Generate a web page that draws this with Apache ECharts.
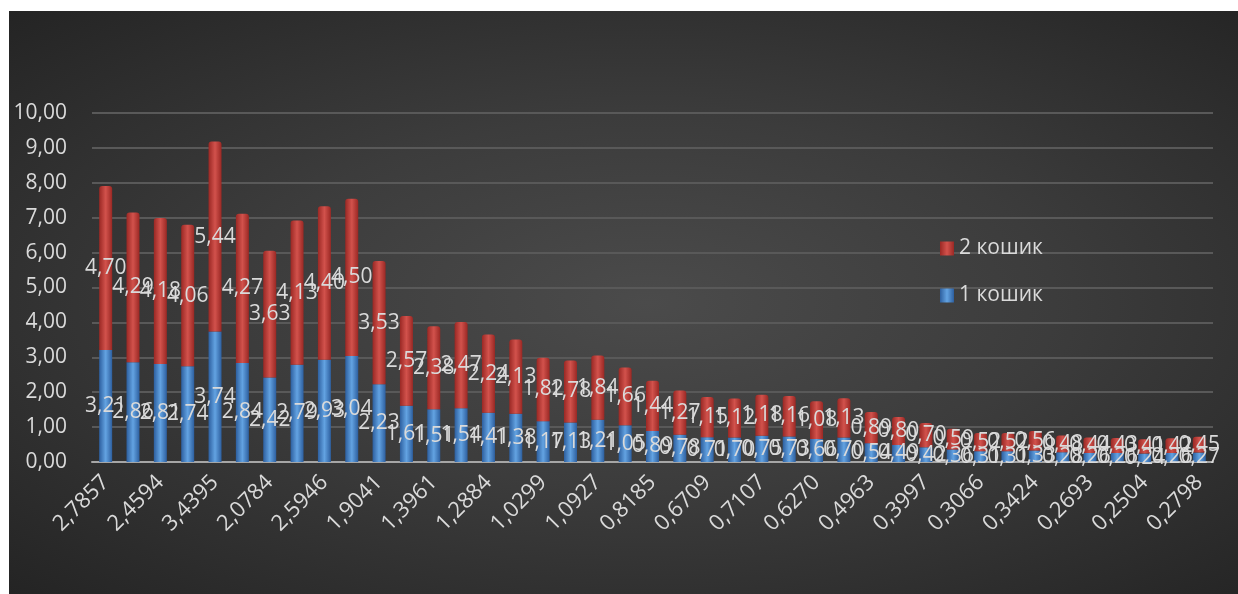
<!DOCTYPE html>
<html>
<head>
<meta charset="utf-8">
<script src="https://cdn.jsdelivr.net/npm/echarts@6/dist/echarts.min.js"></script>
<style>
  html, body { margin: 0; padding: 0; background: #ffffff; }
  #chart {
    position: absolute; left: 9px; top: 11px; width: 1229px; height: 583px;
    background: radial-gradient(ellipse at 52% 50%, #4b4b4b 0%, #3c3c3c 45%, #242424 100%);
  }
</style>
</head>
<body>
<div id="chart"></div>
<script>
// Category labels (every other one is shown on the axis)
const categories = [
  '2,7857', '', '2,4594', '', '3,4395', '', '2,0784', '', '2,5946', '', '1,9041', '',
  '1,3961', '', '1,2884', '', '1,0299', '', '1,0927', '', '0,8185', '', '0,6709', '',
  '0,7107', '', '0,6270', '', '0,4963', '', '0,3997', '', '0,3066', '', '0,3424', '',
  '0,2693', '', '0,2504', '', '0,2798'
];

// 1 кошик
const basket1 = [
  3.21, 2.86, 2.81, 2.74, 3.74, 2.84, 2.42, 2.79, 2.93, 3.04, 2.23,
  1.61, 1.51, 1.54, 1.41, 1.38, 1.17, 1.13, 1.21, 1.05, 0.89,
  0.78, 0.71, 0.70, 0.75, 0.73, 0.66, 0.70, 0.54, 0.49, 0.42,
  0.36, 0.31, 0.31, 0.33, 0.28, 0.26, 0.26, 0.24, 0.26, 0.27
];

// 2 кошик
const basket2 = [
  4.70, 4.29, 4.18, 4.06, 5.44, 4.27, 3.63, 4.13, 4.40, 4.50, 3.53,
  2.57, 2.38, 2.47, 2.24, 2.13, 1.82, 1.78, 1.84, 1.66, 1.44,
  1.27, 1.15, 1.12, 1.18, 1.16, 1.08, 1.13, 0.89, 0.80, 0.70,
  0.59, 0.52, 0.52, 0.56, 0.48, 0.44, 0.43, 0.41, 0.42, 0.45
];

const seriesNames = ['1 кошик', '2 кошик'];

const fmt = v => Number(v).toFixed(2).replace('.', ',');
const textColor = '#dadada';
const fontFamily = '"Open Sans", "Noto Sans", sans-serif';
const fontSize = 21;

function barGradient(edge, mid) {
  return new echarts.graphic.LinearGradient(0, 0, 1, 0, [
    { offset: 0, color: edge },
    { offset: 0.5, color: mid },
    { offset: 1, color: edge }
  ]);
}

const chart = echarts.init(document.getElementById('chart'), null, { renderer: 'canvas' });

const labelStyle = {
  show: true,
  position: 'inside',
  color: textColor,
  fontSize: fontSize,
  fontFamily: fontFamily,
  formatter: p => fmt(p.value)
};

chart.setOption({
  backgroundColor: 'transparent',
  animation: false,
  textStyle: { fontFamily: fontFamily },
  grid: {
    left: 83, right: 25, top: 102, bottom: 132,
    outerBoundsMode: 'none'
  },
  legend: {
    data: ['2 кошик', '1 кошик'],
    orient: 'vertical',
    left: 926,
    top: 222,
    itemWidth: 14,
    itemHeight: 14,
    itemGap: 26,
    icon: 'rect',
    textStyle: { color: textColor, fontSize: fontSize, fontFamily: fontFamily }
  },
  xAxis: {
    type: 'category',
    data: categories,
    axisLine: { show: true, lineStyle: { color: '#a6a6a6', width: 2 } },
    axisTick: { show: false },
    axisLabel: {
      interval: 1,
      rotate: 45,
      color: textColor,
      fontSize: 22,
      fontFamily: fontFamily,
      margin: 17
    }
  },
  yAxis: {
    type: 'value',
    min: 0,
    max: 10,
    interval: 1,
    axisLine: { show: false },
    axisTick: { show: false },
    splitLine: { lineStyle: { color: '#595959', width: 2 } },
    axisLabel: {
      color: textColor,
      fontSize: fontSize,
      fontFamily: fontFamily,
      margin: 25,
      formatter: v => fmt(v)
    }
  },
  series: [
    {
      name: seriesNames[0],
      type: 'bar',
      stack: 'total',
      barWidth: 13,
      data: basket1,
      itemStyle: { color: barGradient('#2d5f9f', '#63a3e2') },
      label: labelStyle
    },
    {
      name: seriesNames[1],
      type: 'bar',
      stack: 'total',
      barWidth: 13,
      data: basket2,
      itemStyle: { color: barGradient('#9a2824', '#d2524c'), borderRadius: [3, 3, 0, 0] },
      label: labelStyle
    }
  ]
});
</script>
</body>
</html>
